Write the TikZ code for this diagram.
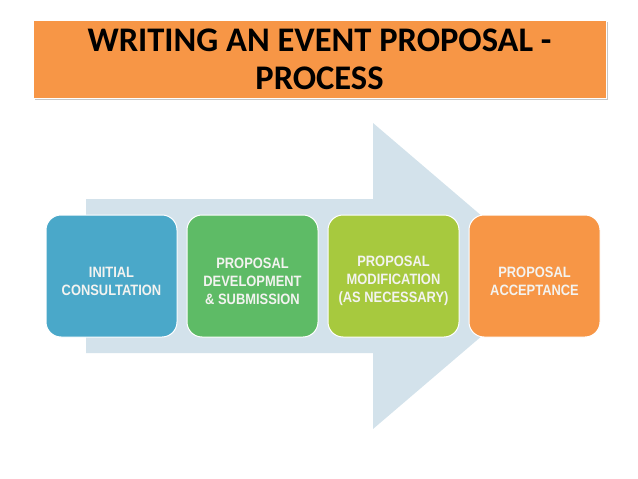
\documentclass[tikz,border=0pt]{standalone}
\usepackage{fontspec}
\setmainfont{Carlito}
\newfontfamily\phasefont[FakeStretch=0.86]{Liberation Sans}
\usetikzlibrary{positioning,shadows}
\definecolor{headorange}{RGB}{247,150,70}
\definecolor{arrowgrey}{RGB}{211,226,235}
\definecolor{consultblue}{RGB}{74,168,201}
\definecolor{developgreen}{RGB}{94,187,102}
\definecolor{modifylime}{RGB}{167,201,62}
\definecolor{acceptorange}{RGB}{247,150,70}
\definecolor{phasetext}{RGB}{243,243,240}
\newcommand{\phasedrop}{\rule{0pt}{21pt}}

\begin{document}
\begin{tikzpicture}[x=1pt, y=-1pt, node distance=9pt]
\tikzstyle{phase}=[draw=white, line width=1pt, rounded corners=15pt, align=center, minimum width=131pt, minimum height=122pt, inner sep=2pt, text=phasetext, font=\phasefont\bfseries\fontsize{15}{18}\selectfont]
\useasboundingbox (0,0) rectangle (638,479);
\node[draw=white, line width=0.8pt, fill=headorange, drop shadow={shadow xshift=1.5pt, shadow yshift=-1.5pt, opacity=.45}, minimum width=573pt, minimum height=78pt, align=center, font=\bfseries\fontsize{34.5}{38}\selectfont] (title) at (319.5,59) {WRITING AN EVENT PROPOSAL -\\PROCESS};
% big arrow behind the steps
\fill[arrowgrey] (86,199) -- (373,199) -- (373,123) -- (552,276) -- (373,429) -- (373,353) -- (86,353) -- cycle;
\node[phase, fill=consultblue] (p1) at (111.5,276) {\phasedrop INITIAL\\CONSULTATION};
\node[phase, fill=developgreen, right=of p1] (p2) {\phasedrop PROPOSAL\\DEVELOPMENT\\\& SUBMISSION};
\node[phase, fill=modifylime, right=of p2] (p3) {\phasedrop PROPOSAL\\MODIFICATION\\(AS NECESSARY)};
\node[phase, fill=acceptorange, right=of p3] (p4) {\phasedrop PROPOSAL\\ACCEPTANCE};
\end{tikzpicture}
\end{document}
